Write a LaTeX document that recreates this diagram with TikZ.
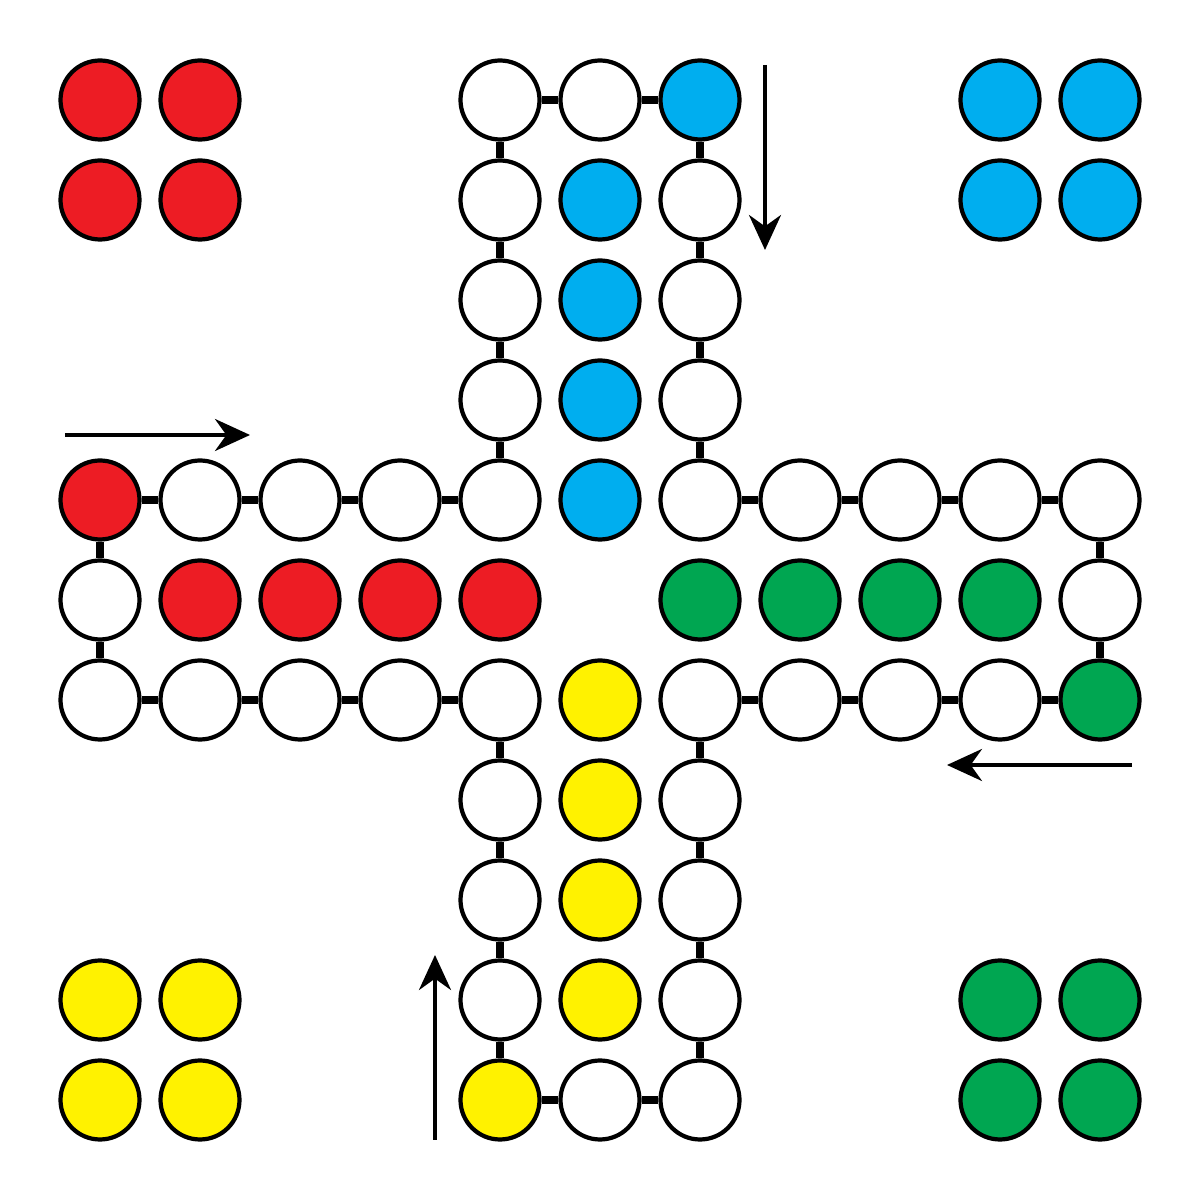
\documentclass[tikz,border=0pt]{standalone}
\usetikzlibrary{arrows.meta}
\definecolor{ludored}{HTML}{ED1C24}
\definecolor{ludoblue}{HTML}{00AEEF}
\definecolor{ludogreen}{HTML}{00A651}
\definecolor{ludoyellow}{HTML}{FFF200}
\tikzset{
  field/.style={circle,draw=black,line width=1.2pt,minimum size=7.9mm,inner sep=0pt},
  link/.style={line width=2.3pt},
  move/.style={line width=1.1pt,-{Stealth[length=3.5mm,width=3.2mm]}}
}
\begin{document}
\begin{tikzpicture}
\useasboundingbox (0,0) rectangle (12,12);
% Felder: (Spalte,Zeile), y = 12 - Zeile
\foreach \c/\r in {5/1,6/1,5/2,7/2,5/3,7/3,5/4,7/4,2/5,3/5,4/5,5/5,7/5,8/5,9/5,10/5,11/5,
  1/6,11/6,1/7,2/7,3/7,4/7,5/7,7/7,8/7,9/7,10/7,5/8,7/8,5/9,7/9,5/10,7/10,6/11,7/11}
  \node[field,fill=white] (f-\c-\r) at (\c,12-\r) {};
\foreach \c/\r in {7/1,6/2,6/3,6/4,6/5,10/1,11/1,10/2,11/2}
  \node[field,fill=ludoblue] (f-\c-\r) at (\c,12-\r) {};
\foreach \c/\r in {1/5,2/6,3/6,4/6,5/6,1/1,2/1,1/2,2/2}
  \node[field,fill=ludored] (f-\c-\r) at (\c,12-\r) {};
\foreach \c/\r in {7/6,8/6,9/6,10/6,11/7,10/10,11/10,10/11,11/11}
  \node[field,fill=ludogreen] (f-\c-\r) at (\c,12-\r) {};
\foreach \c/\r in {6/7,6/8,6/9,6/10,5/11,1/10,2/10,1/11,2/11}
  \node[field,fill=ludoyellow] (f-\c-\r) at (\c,12-\r) {};
% Verbindungen
\foreach \a/\b/\r in {5/6/1,6/7/1,1/2/5,2/3/5,3/4/5,4/5/5,7/8/5,8/9/5,9/10/5,10/11/5,
  1/2/7,2/3/7,3/4/7,4/5/7,7/8/7,8/9/7,9/10/7,10/11/7,5/6/11,6/7/11}
  \draw[link] (f-\a-\r) -- (f-\b-\r);
\foreach \c/\a/\b in {5/1/2,5/2/3,5/3/4,5/4/5,5/7/8,5/8/9,5/9/10,5/10/11,
  7/1/2,7/2/3,7/3/4,7/4/5,7/7/8,7/8/9,7/9/10,7/10/11,1/5/6,1/6/7,11/5/6,11/6/7}
  \draw[link] (f-\c-\a) -- (f-\c-\b);
% Pfeile
\coordinate (down-s) at (7.65,11.35);
\coordinate (down-e) at (7.65,9.5);
\coordinate (right-s) at (0.65,7.65);
\coordinate (right-e) at (2.5,7.65);
\coordinate (left-s) at (11.32,4.35);
\coordinate (left-e) at (9.47,4.35);
\coordinate (up-s) at (4.35,0.6);
\coordinate (up-e) at (4.35,2.45);
\draw[move] (down-s) -- (down-e);
\draw[move] (right-s) -- (right-e);
\draw[move] (left-s) -- (left-e);
\draw[move] (up-s) -- (up-e);
\end{tikzpicture}
\end{document}
